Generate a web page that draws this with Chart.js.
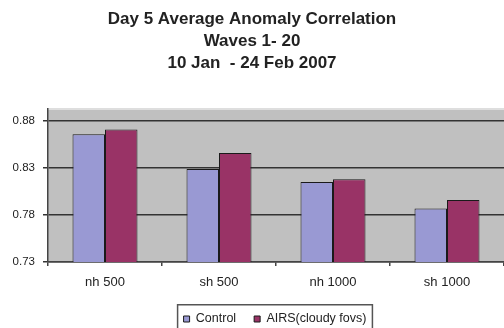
<!DOCTYPE html>
<html>
<head>
<meta charset="utf-8">
<script src="https://cdn.jsdelivr.net/npm/chart.js@4"></script>
<style>
  html, body { margin: 0; padding: 0; background: #fff; }
  #wrap { width: 504px; height: 328px; }
</style>
</head>
<body>
<div id="wrap"><canvas id="corrChart"></canvas></div>
<script>
// values
const categories = ['nh 500', 'sh 500', 'nh 1000', 'sh 1000'];
const controlValues = [0.866, 0.829, 0.815, 0.787];
const airsValues = [0.871, 0.846, 0.818, 0.796];
const yTicks = [0.73, 0.78, 0.83, 0.88];

const FONT = '"Liberation Sans", Arial, sans-serif';
const LEGEND_SHIFT = 23; // excel put the legend a bit right of centre

// grey plot area + light top edge
const plotBackground = {
    id: 'plotBackground',
    beforeDraw(chart) {
        const { ctx, chartArea: a } = chart;
        ctx.save();
        ctx.fillStyle = '#c0c0c0';
        ctx.fillRect(a.left, a.top, a.right - a.left, a.bottom - a.top);
        ctx.strokeStyle = '#dedede';
        ctx.lineWidth = 2;
        ctx.beginPath();
        ctx.moveTo(a.left, a.top);
        ctx.lineTo(a.right, a.top);
        ctx.stroke();
        ctx.restore();
    }
};

// nudge the legend sideways and draw a frame round it
const legendFrame = {
    id: 'legendFrame',
    afterUpdate(chart) {
        const lg = chart.legend;
        lg.left += LEGEND_SHIFT;
        lg.right += LEGEND_SHIFT;
        lg.legendHitBoxes.forEach(b => { b.left += LEGEND_SHIFT; });
    },
    afterDraw(chart) {
        const boxes = chart.legend.legendHitBoxes;
        if (!boxes || !boxes.length) return;
        const left = Math.min(...boxes.map(b => b.left)) - 6;
        const right = Math.max(...boxes.map(b => b.left + b.width)) + 6;
        const top = boxes[0].top - 8;
        const ctx = chart.ctx;
        ctx.save();
        ctx.strokeStyle = '#555';
        ctx.lineWidth = 1.5;
        ctx.strokeRect(left, top, right - left, 40);
        ctx.restore();
    }
};

const ctx = document.getElementById('corrChart').getContext('2d');
const corrChart = new Chart(ctx, {
    type: 'bar',
    data: {
        labels: categories,
        datasets: [{
            label: 'Control',
            data: controlValues,
            backgroundColor: '#9999d3',
            borderColor: '#1a1a1a',
            borderWidth: 1
        }, {
            label: 'AIRS(cloudy fovs)',
            data: airsValues,
            backgroundColor: '#993366',
            borderColor: '#1a1a1a',
            borderWidth: 1
        }]
    },
    options: {
        responsive: true,
        maintainAspectRatio: false,
        animation: false,
        layout: { padding: { left: 0, right: 0, top: 0, bottom: -7.25 } },
        datasets: {
            bar: { categoryPercentage: 0.57, barPercentage: 1.0 }
        },
        scales: {
            x: {
                grid: {
                    offset: true,
                    drawOnChartArea: false,
                    drawTicks: true,
                    tickLength: 4,
                    color: '#444',
                    lineWidth: 1.5
                },
                border: { color: '#444', width: 1.5 },
                ticks: {
                    color: '#222',
                    font: { family: FONT, size: 13 },
                    padding: 9
                },
                afterFit(scale) { scale.height = 32.75; }
            },
            y: {
                min: 0.73,
                max: 0.8928,
                afterBuildTicks(scale) {
                    scale.ticks = yTicks.map(v => ({ value: v }));
                },
                grid: {
                    color: '#333',
                    lineWidth: 1.5,
                    tickLength: 5
                },
                border: { color: '#444', width: 1.5 },
                ticks: {
                    color: '#222',
                    font: { family: FONT, size: 11.5 },
                    padding: 8,
                    callback: v => Number(v).toFixed(2)
                },
                afterFit(scale) { scale.width = 48; }
            }
        },
        plugins: {
            title: {
                display: true,
                text: ['Day 5 Average Anomaly Correlation', 'Waves 1- 20', '10 Jan  - 24 Feb 2007'],
                color: '#222',
                font: { family: FONT, size: 17, weight: 'bold', lineHeight: '22px' },
                padding: { top: 8, bottom: 35 }
            },
            legend: {
                position: 'bottom',
                labels: {
                    color: '#222',
                    font: { family: FONT, size: 12.5 },
                    boxWidth: 6,
                    boxHeight: 6,
                    padding: 18
                }
            },
            tooltip: { enabled: false }
        }
    },
    plugins: [plotBackground, legendFrame]
});
</script>
</body>
</html>
